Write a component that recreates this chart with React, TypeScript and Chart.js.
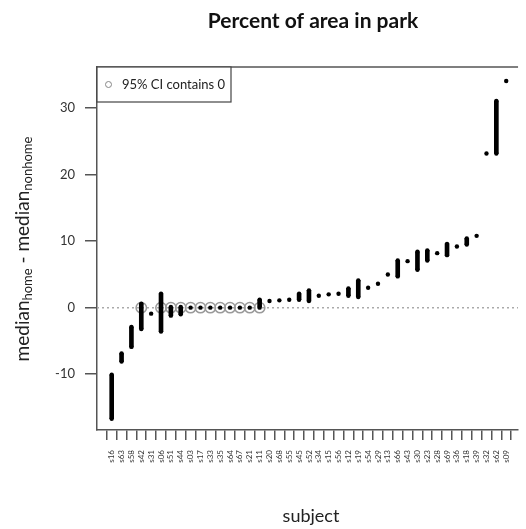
import React, { useEffect, useRef } from "react";
import { Chart, registerables } from "chart.js";

Chart.register(...registerables);

const subjects = [
  "s16", "s63", "s58", "s42", "s31", "s06", "s51", "s44", "s03", "s17", "s33",
  "s35", "s64", "s67", "s21", "s11", "s20", "s68", "s55", "s45", "s52", "s34",
  "s15", "s56", "s12", "s19", "s54", "s29", "s13", "s66", "s43", "s30", "s23",
  "s28", "s69", "s36", "s18", "s39", "s32", "s62", "s09",
];

const lowValues = [
  -16.7, -8.1, -5.9, -3.2, -0.9, -3.6, -1.2, -1.0, 0, 0, 0,
  0, 0, 0, 0, 0, 1.0, 1.1, 1.2, 1.2, 1.0, 1.8,
  2.0, 2.1, 1.8, 1.6, 3.0, 3.6, 5.0, 4.7, 7.0, 5.7, 7.1,
  8.2, 7.9, 9.2, 9.5, 10.8, 23.2, 23.2, 34.1,
];

const highValues = [
  -10.1, -6.9, -2.9, 0.6, -0.9, 2.1, 0.1, 0.1, 0, 0, 0,
  0, 0, 0, 0, 1.2, 1.0, 1.1, 1.2, 2.1, 2.6, 1.8,
  2.0, 2.1, 2.9, 4.1, 3.0, 3.6, 5.0, 7.1, 7.0, 8.4, 8.6,
  8.2, 9.6, 9.2, 10.4, 10.8, 23.2, 31.1, 34.1,
];

const ciContainsZero = [
  "s42", "s06", "s51", "s44", "s03", "s17", "s33", "s35", "s64", "s67", "s21", "s11",
];

const yTicks = [-10, 0, 10, 20, 30];

const FONT = "Lato, 'Open Sans', sans-serif";

export default function App() {
  const canvasRef = useRef<HTMLCanvasElement | null>(null);

  useEffect(() => {
    const canvas = canvasRef.current;
    if (!canvas) return;

    const pointData: { x: number; y: number }[] = [];
    const barData: { x: number; y: [number, number] }[] = [];
    subjects.forEach((_, i) => {
      const lo = lowValues[i];
      const hi = highValues[i];
      pointData.push({ x: i + 1, y: lo });
      if (hi !== lo) {
        pointData.push({ x: i + 1, y: hi });
        barData.push({ x: i + 1, y: [lo, hi] });
      }
    });
    const circleData = ciContainsZero.map((s) => ({ x: subjects.indexOf(s) + 1, y: 0 }));

    const xMin = -0.49;
    const xMax = 42.2;

    const decor = {
      id: "decor",
      afterDraw(chart: any) {
        const ctx = chart.ctx as CanvasRenderingContext2D;
        const a = chart.chartArea;
        ctx.save();
        // top border
        ctx.strokeStyle = "#555";
        ctx.lineWidth = 1.5;
        ctx.beginPath();
        ctx.moveTo(a.left, a.top);
        ctx.lineTo(a.right, a.top);
        ctx.stroke();

        // legend box
        ctx.fillStyle = "#fff";
        ctx.fillRect(a.left, a.top, 134, 35);
        ctx.strokeStyle = "#444";
        ctx.lineWidth = 1.2;
        ctx.strokeRect(a.left, a.top, 134, 35);
        ctx.beginPath();
        ctx.strokeStyle = "#888";
        ctx.lineWidth = 1;
        ctx.arc(a.left + 11.5, a.top + 17.5, 3, 0, Math.PI * 2);
        ctx.stroke();
        ctx.fillStyle = "#222";
        ctx.font = `13px ${FONT}`;
        ctx.textAlign = "left";
        ctx.textBaseline = "middle";
        ctx.fillText("95% CI contains 0", a.left + 25, a.top + 18);

        // title
        ctx.font = `bold 21px ${FONT}`;
        ctx.textAlign = "center";
        ctx.textBaseline = "middle";
        ctx.fillStyle = "#111";
        ctx.fillText("Percent of area in park", 313, 21);

        // x title
        ctx.font = `18px ${FONT}`;
        ctx.fillStyle = "#222";
        ctx.fillText("subject", 311, 516);

        // y title with subscripts
        const cy = 249;
        const baseX = 29;
        const big = `19px ${FONT}`;
        const small = `13px ${FONT}`;
        const parts: [string, boolean][] = [
          ["median", false],
          ["home", true],
          [" - median", false],
          ["nonhome", true],
        ];
        let total = 0;
        const widths = parts.map(([t, sub]) => {
          ctx.font = sub ? small : big;
          const w = ctx.measureText(t).width;
          total += w;
          return w;
        });
        ctx.translate(baseX, cy);
        ctx.rotate(-Math.PI / 2);
        ctx.textAlign = "left";
        ctx.textBaseline = "alphabetic";
        let xx = -total / 2;
        parts.forEach(([t, sub], i) => {
          ctx.font = sub ? small : big;
          ctx.fillText(t, xx, sub ? 3 : 0);
          xx += widths[i];
        });
        ctx.restore();
      },
    };

    const chart = new Chart(canvas, {
      type: "scatter",
      data: {
        datasets: [
          {
            type: "scatter",
            data: pointData,
            pointRadius: 2.2,
            pointHoverRadius: 2.2,
            backgroundColor: "#000",
            borderWidth: 0,
          } as any,
          {
            type: "bar",
            data: barData,
            barThickness: 4,
            grouped: false,
            backgroundColor: "#000",
            borderWidth: 0,
          } as any,
          {
            type: "scatter",
            data: circleData,
            pointRadius: 5.2,
            pointHoverRadius: 5.2,
            backgroundColor: "rgba(0,0,0,0)",
            borderColor: "#9a9a9a",
            borderWidth: 1.5,
          } as any,
          {
            type: "line",
            data: [
              { x: xMin, y: 0 },
              { x: xMax, y: 0 },
            ],
            borderColor: "#aaa",
            borderDash: [2, 3],
            borderWidth: 1.5,
            pointRadius: 0,
            fill: false,
          } as any,
        ],
      },
      options: {
        animation: false,
        responsive: false,
        events: [],
        layout: { padding: { top: 67, left: 0, right: 0, bottom: 0 } },
        plugins: {
          legend: { display: false },
          tooltip: { enabled: false },
          title: { display: false },
        },
        scales: {
          x: {
            type: "linear",
            min: xMin,
            max: xMax,
            offset: false,
            grid: {
              drawOnChartArea: false,
              drawTicks: true,
              tickLength: 10,
              color: "#555",
              lineWidth: 1.5,
            },
            border: { display: true, color: "#555", width: 1.5 },
            ticks: {
              autoSkip: false,
              minRotation: 90,
              maxRotation: 90,
              padding: 10,
              color: "#333",
              font: { size: 8, family: FONT },
              callback: (v: any) => subjects[Number(v) - 1] ?? "",
            },
            afterBuildTicks: (axis: any) => {
              axis.ticks = subjects.map((_, i) => ({ value: i + 1 }));
            },
            afterFit: (axis: any) => {
              axis.height = 99;
            },
          },
          y: {
            type: "linear",
            min: -18.4,
            max: 36.2,
            grid: {
              drawOnChartArea: false,
              drawTicks: true,
              tickLength: 12,
              color: "#555",
              lineWidth: 1.5,
            },
            border: { display: true, color: "#555", width: 1.5 },
            ticks: {
              padding: 10,
              color: "#333",
              font: { size: 13, family: FONT },
            },
            afterBuildTicks: (axis: any) => {
              axis.ticks = yTicks.map((v) => ({ value: v }));
            },
            afterFit: (axis: any) => {
              axis.width = 97;
            },
          },
        },
      },
      plugins: [decor],
    });

    return () => chart.destroy();
  }, []);

  return (
    <div style={{ position: "absolute", left: 0, top: 0, width: 526, height: 529, background: "#fff" }}>
      <canvas ref={canvasRef} width={526} height={529} style={{ display: "block" }} />
    </div>
  );
}
